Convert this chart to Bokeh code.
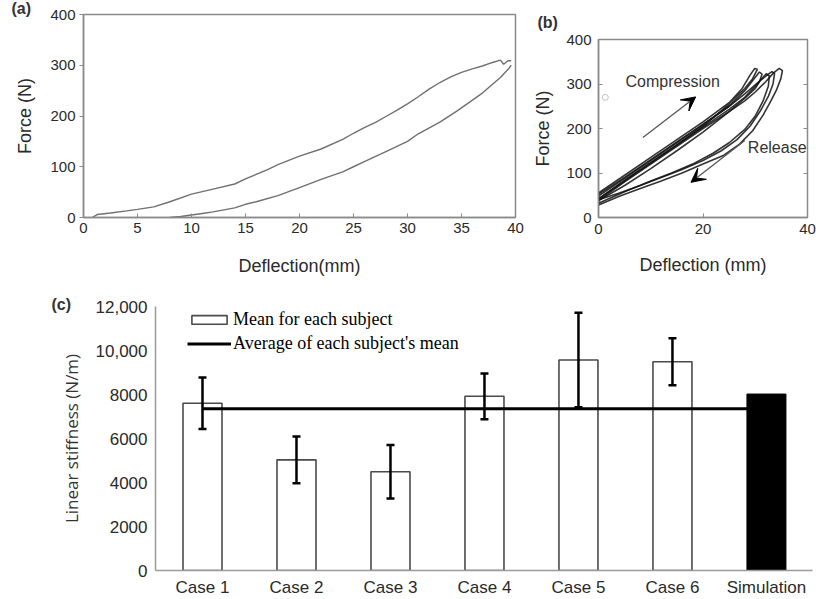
from bokeh.plotting import figure
from bokeh.models import (Range1d, FixedTicker, Label, Arrow, VeeHead, Whisker, TeeHead,
                          ColumnDataSource, Legend, LegendItem, Title, LinearAxis)
from bokeh.layouts import row, column
from bokeh.embed import file_html
from bokeh.resources import INLINE

SANS = "Liberation Sans"
SERIF = "Liberation Serif"
TXT = "#2a2a2a"

# ---------------- (a) single loading / unloading curve ----------------
a_load_defl = [0.8, 1.3, 2.5, 4, 5, 6.5, 8, 10, 12, 14, 15, 17, 18, 20, 22, 24, 25, 26, 27, 28,
               29, 30, 31, 32, 33, 34, 35, 36, 37, 37.8, 38.6, 38.9, 39.3, 39.6]
a_load_force = [0, 6, 9, 13, 16, 21, 31, 46, 56, 66, 76, 94, 104, 121, 135, 154, 166, 177, 187, 199,
                211, 224, 238, 253, 266, 277, 286, 293, 299, 305, 310, 302, 309, 309]
a_unload_defl = [39.6, 39.4, 38.6, 36.8, 34.6, 33, 31, 30, 28, 26, 25, 24, 22, 20, 18, 16, 15, 14,
                 13, 12, 11, 10, 9, 8]
a_unload_force = [300, 294, 276, 243, 210, 188, 165, 150, 130, 110, 100, 90, 75, 59, 43, 31, 26, 19,
                  15, 11, 8, 5, 2, 0]
a_xticks = [0, 5, 10, 15, 20, 25, 30, 35, 40]
a_yticks = [0, 100, 200, 300, 400]

# ---------------- (b) repeated hysteresis loops ----------------
b_loop1_defl = [0, 5, 10, 15, 20, 25, 27.5, 29, 29.9, 30.4, 29.5, 28, 25, 20, 15, 10, 5, 0]
b_loop1_force = [55, 95, 135, 175, 215, 258, 290, 320, 335, 333, 312, 290, 255, 205, 163, 122, 82, 42]
b_loop2_defl = [0, 5, 10, 15, 20, 25, 28, 30, 30.8, 31.3, 30.8, 30, 28, 25, 20, 15, 10, 5, 0]
b_loop2_force = [48, 88, 128, 168, 208, 250, 285, 315, 327, 322, 305, 290, 268, 238, 192, 150, 110, 72, 38]
b_loop3_defl = [0, 5, 10, 15, 20, 25, 28, 30, 31.5, 32.1, 32.7, 32.5, 31.5, 30, 28, 25, 22, 18, 14, 10, 5, 0]
b_loop3_force = [42, 84, 124, 163, 203, 243, 270, 295, 315, 323, 318, 295, 262, 228, 198, 168, 145, 120, 100, 82, 58, 32]
b_loop4_defl = [0, 5, 10, 15, 20, 25, 28, 30, 32, 33.5, 34.6, 35.2, 34.9, 34, 33, 31.5, 29.5, 27, 24, 20, 16, 12, 8, 4, 0]
b_loop4_force = [38, 80, 120, 160, 200, 238, 262, 282, 305, 325, 335, 330, 312, 285, 262, 230, 195, 165, 140, 120, 100, 82, 65, 48, 28]
b_loop5_defl = [0, 5, 10, 15, 20, 25, 28, 31, 32.5, 33.2, 33.7, 33.4, 32.5, 31, 29, 26.5, 23.5, 20, 16, 12, 8, 4, 0]
b_loop5_force = [52, 90, 130, 170, 210, 250, 278, 308, 322, 328, 324, 300, 272, 240, 205, 175, 150, 128, 108, 90, 72, 55, 40]
b_stray_defl = [1.3]
b_stray_force = [270]
b_compression_arrow = [8.5, 180, 18.6, 271]
b_release_arrow = [28.0, 173, 17.7, 79]
b_xticks = [0, 20, 40]
b_yticks = [0, 100, 200, 300, 400]

# ---------------- (c) linear stiffness ----------------
categories = ["Case 1", "Case 2", "Case 3", "Case 4", "Case 5", "Case 6", "Simulation"]
case_means = [7600, 5030, 4490, 7920, 9570, 9490]
case_errors = [1170, 1060, 1220, 1040, 2150, 1065]
simulation_value = [8020]
c_yticks = [0, 2000, 4000, 6000, 8000, 10000, 12000]
c_ytick_labels = ["0", "2000", "4000", "6000", "8000", "10,000", "12,000"]
BAR_W = 0.415


def style_axes(p, size_tick="15px", size_lab="18px"):
    for ax in (p.xaxis, p.yaxis):
        ax.axis_line_color = "#8a8a8a"
        ax.axis_line_width = 1.5
        ax.major_tick_line_color = "#8a8a8a"
        ax.minor_tick_line_color = None
        ax.major_label_text_font = SANS
        ax.major_label_text_font_size = size_tick
        ax.major_label_text_color = TXT
        ax.axis_label_text_font = SANS
        ax.axis_label_text_font_size = size_lab
        ax.axis_label_text_font_style = "normal"
        ax.axis_label_text_color = TXT
    p.grid.visible = False


def panel_title(text, offset, standoff):
    return Title(text=text, align="left", offset=offset, standoff=standoff,
                 vertical_align="top", text_font=SANS, text_font_size="16px",
                 text_font_style="bold", text_color="#333333")


# ---- panel (a)
pa = figure(width=530, height=282, x_range=Range1d(0, 40), y_range=Range1d(0, 400),
            output_backend="svg", toolbar_location=None, frame_align=False,
            title=panel_title("(a)", -72, -30),
            min_border_left=83, min_border_right=15, min_border_top=14, min_border_bottom=65)
style_axes(pa)
pa.outline_line_color = "#8a8a8a"
pa.outline_line_width = 1.5
pa.xaxis.ticker = FixedTicker(ticks=a_xticks)
pa.yaxis.ticker = FixedTicker(ticks=a_yticks)
pa.xaxis.major_tick_in = 4
pa.xaxis.major_tick_out = 0
pa.yaxis.major_tick_in = 0
pa.yaxis.major_tick_out = 4
pa.xaxis.major_label_standoff = 5
pa.yaxis.major_label_standoff = 4
pa.xaxis.axis_label = "Deflection(mm)"
pa.yaxis.axis_label = "Force (N)"
pa.xaxis.axis_label_standoff = 20
pa.yaxis.axis_label_standoff = 12
pa.line(a_load_defl, a_load_force, line_color="#707070", line_width=1.4)
pa.line(a_unload_defl, a_unload_force, line_color="#707070", line_width=1.4)

# ---- panel (b)
pb = figure(width=286, height=282, x_range=Range1d(0, 40), y_range=Range1d(0, 400),
            output_backend="svg", toolbar_location=None, frame_align=False,
            title=panel_title("(b)", -61, 13),
            min_border_left=66, min_border_right=9, min_border_top=39, min_border_bottom=65)
style_axes(pb, size_tick="15px", size_lab="18px")
pb.outline_line_color = "#8a8a8a"
pb.outline_line_width = 1.5
pb.xaxis.ticker = FixedTicker(ticks=b_xticks)
pb.yaxis.ticker = FixedTicker(ticks=b_yticks)
for ax in (pb.xaxis, pb.yaxis):
    ax.major_tick_in = 4
    ax.major_tick_out = 0
pb.xaxis.major_label_standoff = 6
pb.yaxis.major_label_standoff = 7
pb.xaxis.axis_label = "Deflection (mm)"
pb.yaxis.axis_label = "Force (N)"
pb.xaxis.axis_label_standoff = 18
pb.yaxis.axis_label_standoff = 10
right_ax = LinearAxis(ticker=FixedTicker(ticks=b_yticks[1:-1]), axis_line_color=None,
                      major_tick_in=4, major_tick_out=0, major_tick_line_color="#8a8a8a",
                      minor_tick_line_color=None, major_label_standoff=0,
                      major_label_overrides={t: "" for t in b_yticks})
pb.add_layout(right_ax, "right")
for d, f in [(b_loop1_defl, b_loop1_force), (b_loop2_defl, b_loop2_force),
             (b_loop3_defl, b_loop3_force), (b_loop4_defl, b_loop4_force),
             (b_loop5_defl, b_loop5_force)]:
    pb.line(d + d[:1], f + f[:1], line_color="#111111", line_width=1.6, line_alpha=0.85)
pb.scatter(b_stray_defl, b_stray_force, marker="circle", size=6, fill_color=None,
           line_color="#c0c0c0")
for arr in (b_compression_arrow, b_release_arrow):
    pb.add_layout(Arrow(x_start=arr[0], y_start=arr[1], x_end=arr[2], y_end=arr[3],
                        line_color="#555555", line_width=1.3,
                        end=VeeHead(size=14, fill_color="black", line_color="black")))
pb.add_layout(Label(x=14.2, y=305, text="Compression", text_font=SANS, text_font_size="16px",
                    text_color="#333333", text_align="center", text_baseline="middle"))
pb.add_layout(Label(x=34.2, y=158, text="Release", text_font=SANS, text_font_size="16px",
                    text_color="#333333", text_align="center", text_baseline="middle"))

# ---- panel (c)
case_x = list(range(len(case_means)))
sim_x = [len(case_means)]
avg_mean = sum(case_means) / len(case_means)

pc = figure(width=816, height=317, x_range=Range1d(-0.5, 6.49), y_range=Range1d(0, 12000),
            output_backend="svg", toolbar_location=None, frame_align=False,
            title=panel_title("(c)", -104, -22),
            min_border_left=155, min_border_right=4, min_border_top=24, min_border_bottom=28)
style_axes(pc, size_tick="17px", size_lab="17px")
pc.outline_line_color = None
pc.xaxis.ticker = FixedTicker(ticks=case_x + sim_x)
pc.xaxis.major_label_overrides = {i: c for i, c in enumerate(categories)}
pc.yaxis.ticker = FixedTicker(ticks=c_yticks)
pc.yaxis.major_label_overrides = {t: l for t, l in zip(c_yticks, c_ytick_labels)}
for ax in (pc.xaxis, pc.yaxis):
    ax.major_tick_line_color = None
    ax.major_tick_in = 0
    ax.major_tick_out = 0
    ax.axis_line_color = "#9a9a9a"
pc.xaxis.major_label_standoff = 7
pc.yaxis.major_label_standoff = 8
pc.yaxis.axis_label = "Linear stiffness (N/m)"
pc.yaxis.axis_label_text_font = "Open Sans"
pc.yaxis.axis_label_text_color = "#333333"
pc.yaxis.axis_label_standoff = 10

bars = pc.vbar(x=case_x, top=case_means, width=BAR_W, bottom=0, fill_color="white",
               line_color="#4a4a4a", line_width=1.6)
pc.vbar(x=sim_x, top=simulation_value, width=BAR_W, bottom=0, fill_color="black",
        line_color="black", line_width=1.0)
avg_line = pc.segment(x0=[case_x[0]], y0=[avg_mean], x1=[sim_x[0] - BAR_W / 2], y1=[avg_mean],
                      line_color="black", line_width=3)
err_src = ColumnDataSource(dict(x=case_x,
                                upper=[m + e for m, e in zip(case_means, case_errors)],
                                lower=[m - e for m, e in zip(case_means, case_errors)]))
pc.add_layout(Whisker(base="x", upper="upper", lower="lower", source=err_src,
                      level="overlay", line_color="black", line_width=2.5,
                      upper_head=TeeHead(size=8, line_width=2.5, line_color="black"),
                      lower_head=TeeHead(size=8, line_width=2.5, line_color="black")))
legend = Legend(items=[LegendItem(label="Mean for each subject", renderers=[bars]),
                       LegendItem(label="Average of each subject's mean", renderers=[avg_line])],
                location=(32, 216), padding=0, spacing=3, label_standoff=2,
                glyph_width=44, glyph_height=11,
                label_text_font=SERIF, label_text_font_size="18px", label_text_color="black",
                border_line_color=None, background_fill_alpha=0)
pc.add_layout(legend)

layout = column(row(pa, pb), pc)
open("out.html", "w").write(file_html(layout, INLINE))
